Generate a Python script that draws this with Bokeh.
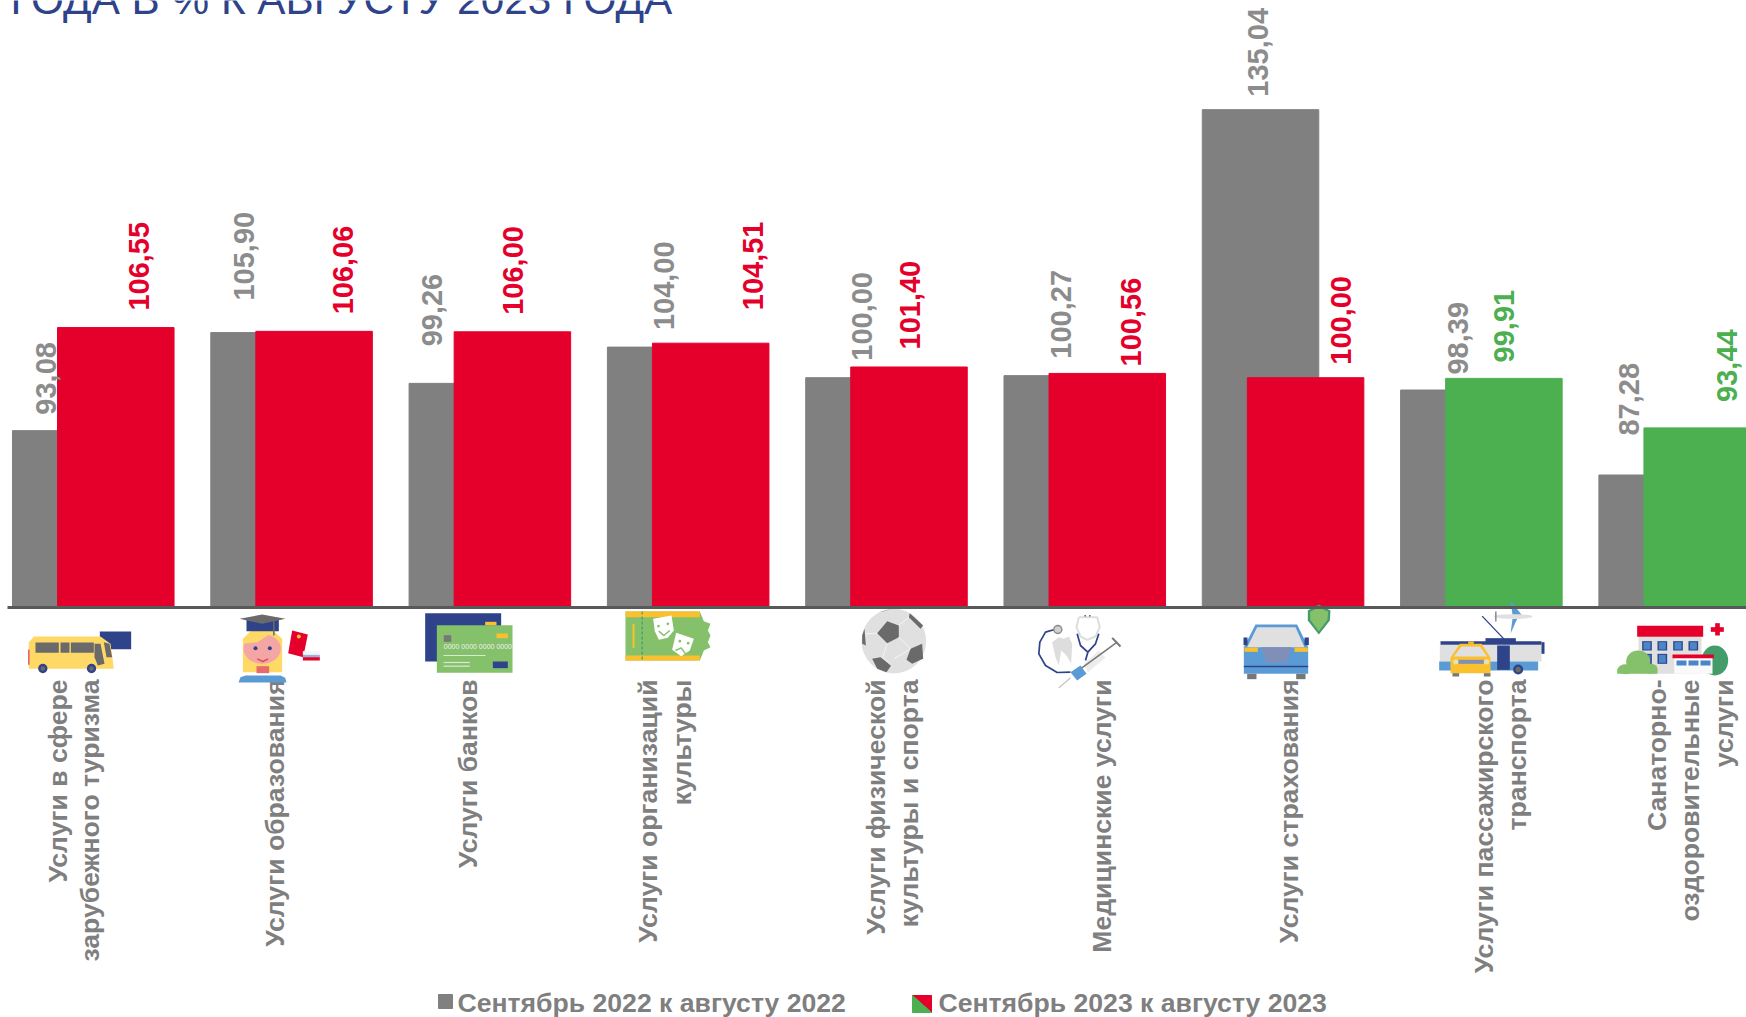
from math import pi
from bokeh.plotting import figure
from bokeh.models import Range1d, ColumnDataSource, LinearAxis
from bokeh.core.properties import value
from bokeh.embed import file_html
from bokeh.resources import INLINE

# ---------- data ----------
title_text = "ГОДА В % К АВГУСТУ 2023 ГОДА"
sep22 = [93.08, 105.90, 99.26, 104.00, 100.00, 100.27, 135.04, 98.39, 87.28]
sep23 = [106.55, 106.06, 106.00, 104.51, 101.40, 100.56, 100.00, 99.91, 93.44]
sep22_text = ["93,08", "105,90", "99,26", "104,00", "100,00", "100,27", "135,04", "98,39", "87,28"]
sep23_text = ["106,55", "106,06", "106,00", "104,51", "101,40", "100,56", "100,00", "99,91", "93,44"]
categories = [
    ["Услуги в сфере", "зарубежного туризма"],
    ["Услуги образования"],
    ["Услуги банков"],
    ["Услуги организаций", "культуры"],
    ["Услуги физической", "культуры и спорта"],
    ["Медицинские услуги"],
    ["Услуги страхования"],
    ["Услуги пассажирского", "транспорта"],
    ["Санаторно-", "оздоровительные", "услуги"],
]
legend_labels = ["Сентябрь 2022 к августу 2022", "Сентябрь 2023 к августу 2023"]

# ---------- styles / layout ----------
GRAY, RED, GREEN, NAVY = "#808080", "#e4002b", "#4caf50", "#2e4389"
LABEL_GRAY, TEXT_GRAY = "#8c8c8c", "#7f7f7f"
YEL, LGRN, DGRN, BLUE, PINK = "#ffd966", "#85c06b", "#439c6a", "#5b9bd5", "#f4a6a6"
AMB, LG, DG = "#fbc02d", "#e0e0e0", "#6a6a6a"
FONT = value("Liberation Sans")
sep23_colors = [RED] * 7 + [GREEN] * 2
PITCH = 198.3
BAR_W = 116.5 / PITCH
GRAY_C, RED_C = -0.1135, 0.1137   # bar centres relative to the group centre; the bars overlap
g_dx = [-24.25, -24.55, -34.85, -1.15, -1.45, -0.75, -2.05, -0.35, -27.65]
g_dy = [-16, -32, -37, -17, -17, -17, -13, -15.5, -39.5]
r_dx = [22.75, 28.45, 0.15, 42.45, 0.55, 23.25, 34.95, -0.35, 24.35]
r_dy = [-17, -17, -17, -33, -17.5, -7, -13, -16, -26]
cat_line_x = [[57, 89], [274], [467], [647, 681], [875, 908.5], [1101], [1288], [1483, 1516], [1656, 1689, 1723]]

W, H = 1746, 1017
p = figure(width=W, height=H, output_backend="svg", toolbar_location=None,
           x_range=Range1d((0 - 92.75) / PITCH, (W - 92.75) / PITCH),
           y_range=Range1d(70 - (H - 606.7) / 7.65, 70 + 606.7 / 7.65),
           min_border=0, outline_line_color=None, background_fill_color="white",
           border_fill_color="white")
p.grid.visible = False
p.yaxis.visible = False
p.xaxis.visible = False
p.extra_x_ranges["px"] = Range1d(0, W)
p.extra_y_ranges["px"] = Range1d(H, 0)
PX = dict(x_range_name="px", y_range_name="px")

# ---------- bars ----------
xs = list(range(len(sep22)))
src22 = ColumnDataSource(dict(x=[i + GRAY_C for i in xs], top=sep22, t=sep22_text, dx=g_dx, dy=g_dy))
src23 = ColumnDataSource(dict(x=[i + RED_C for i in xs], top=sep23, t=sep23_text, dx=r_dx, dy=r_dy, c=sep23_colors))
p.vbar(x="x", top="top", bottom=70, width=BAR_W, color=GRAY, source=src22)
p.vbar(x="x", top="top", bottom=70, width=BAR_W, color="c", source=src23)
p.text(x="x", y="top", text="t", x_offset="dx", y_offset="dy", angle=pi / 2, source=src22,
       text_align="left", text_baseline="middle", text_color=LABEL_GRAY,
       text_font=FONT, text_font_style="bold", text_font_size="29px")
p.text(x="x", y="top", text="t", x_offset="dx", y_offset="dy", angle=pi / 2, source=src23,
       text_align="left", text_baseline="middle", text_color="c",
       text_font=FONT, text_font_style="bold", text_font_size="29px")

# baseline axis
axis = LinearAxis(fixed_location=70, major_tick_line_color=None, minor_tick_line_color=None,
                  major_label_text_color=None, axis_line_color="#595959", axis_line_width=3,
                  bounds=((7 - 92.75) / PITCH, (W - 92.75) / PITCH))
p.add_layout(axis, "below")

# ---------- texts ----------
def T(x, y, s, size, color, bold=True, align="left", base="alphabetic", angle=0):
    p.text(x=[x], y=[y], text=[s], angle=angle, text_align=align, text_baseline=base,
           text_color=color, text_font=FONT, text_font_size=size,
           text_font_style="bold" if bold else "normal", **PX)

T(10, -0.6, title_text, "42.3px", NAVY, bold=False)
for lines, lx in zip(categories, cat_line_x):
    for s, x in zip(lines, lx):
        T(x, 679, s, "26.6px", TEXT_GRAY, align="right", base="middle", angle=pi / 2)

# legend
p.quad(left=[438], right=[452], top=[994], bottom=[1008], color=GRAY, **PX)
T(457, 1002, legend_labels[0], "26.6px", TEXT_GRAY)
p.patch([912, 931, 931], [995, 995, 1012], color=RED, **PX)
p.patch([912, 912, 931], [995, 1012, 1012], color=GREEN, **PX)
T(938, 1002, legend_labels[1], "26.6px", TEXT_GRAY)

# ---------- icons (decorative; page-pixel coordinates, given as 3x crop coordinates) ----------
OX = 0
def fx(v): return OX + v / 3
def fy(v): return 600 + v / 3
def R(x0, y0, x1, y1, c):
    p.quad(left=[fx(x0)], right=[fx(x1)], top=[fy(y0)], bottom=[fy(y1)], color=c, line_color=None, **PX)
def P(pts, c):
    p.patch([fx(a) for a, b in pts], [fy(b) for a, b in pts], color=c, line_color=None, **PX)
def C(x, y, rx, c, ry=None):
    p.ellipse(x=[fx(x)], y=[fy(y)], width=[2 * rx / 3], height=[2 * (ry or rx) / 3], color=c, line_color=None, **PX)
def L(pts, c, w=1.5):
    p.line([fx(a) for a, b in pts], [fy(b) for a, b in pts], line_color=c, line_width=w, **PX)

# bus + EU flag
OX = 10
R(268, 93, 362, 146, NAVY)
P([(70, 108), (270, 108), (300, 130), (310, 205), (55, 205), (55, 125)], YEL)
R(53, 147, 57, 193, "#e4485c")
for a, b in [(75, 145), (150, 177), (181, 250)]:
    R(a, 126, b, 157, DG)
P([(252, 130), (270, 130), (282, 190), (262, 195), (252, 170)], DG)
P([(280, 125), (297, 130), (305, 170), (288, 170)], DG)
for a in (97, 243):
    C(a, 204, 14, NAVY); C(a, 204, 7, DG)

# graduate
P([(697, 115), (720, 92), (790, 92), (815, 115), (815, 215), (697, 215)], YEL)
C(755, 145, 56, PINK, 45)
P([(700, 130), (722, 92), (790, 92), (812, 125), (780, 100), (740, 125)], YEL)
R(708, 55, 805, 92, NAVY)
P([(687, 55), (755, 42), (825, 55), (755, 70)], DG)
L([(790, 60), (790, 105)], DG, 1.5)
C(735, 143, 6, NAVY); C(778, 143, 6, NAVY)
L([(740, 175), (757, 183), (773, 175)], "#e4485c", 1.5)
R(738, 197, 776, 218, "#e86a6a")
P([(684, 246), (690, 230), (705, 225), (810, 225), (824, 232), (828, 246)], BLUE)
P([(845, 90), (892, 102), (878, 170), (833, 158)], RED)
C(865, 108, 6, AMB)
R(877, 152, 928, 163, "#f5f5f5"); R(877, 163, 928, 170, "#8fb4dd"); R(877, 170, 928, 180, RED)

# bank cards
OX = 410
R(44, 38, 272, 183, NAVY)
R(224, 64, 258, 75, AMB)
R(79, 74, 306, 217, LGRN)
R(258, 99, 292, 113, AMB)
R(100, 104, 122, 124, "#777777")
T(fx(100), fy(138), "0000 0000 0000 0000", "7px", "#f0f0f0", bold=False)
L([(99, 165), (225, 165)], "#d9ead3", 1.2)
L([(99, 186), (178, 186)], "#d9ead3", 1.2)
L([(99, 197), (178, 197)], "#d9ead3", 1.2)
R(247, 183, 292, 203, NAVY)

# theatre ticket
P([(645, 33), (868, 33), (880, 62), (900, 70), (892, 90), (900, 105), (892, 125), (900, 140), (880, 150), (868, 180), (645, 180)], LGRN)
R(645, 33, 868, 50, AMB); R(645, 165, 868, 180, AMB)
L([(695, 33), (695, 180)], DGRN, 1.2)
p.renderers[-1].glyph.line_dash = "3 2"
L([(669, 70), (669, 142)], AMB, 2)
P([(728, 55), (783, 45), (790, 90), (772, 112), (745, 118), (733, 92)], "white")
L([(745, 92), (760, 105), (778, 90)], LGRN, 1.5)
C(744, 77, 4, LGRN); C(772, 70, 4, LGRN)
P([(797, 97), (850, 115), (838, 150), (812, 167), (785, 148)], "white")
L([(795, 150), (812, 142), (825, 160)], LGRN, 1.5)
C(808, 122, 4, LGRN); C(833, 128, 4, LGRN)

# football
OX = 850
C(130, 122, 97, LG)
P([(110, 62), (145, 75), (145, 110), (110, 128), (80, 98)], DG)
P([(215, 130), (218, 175), (185, 190), (168, 178), (180, 145)], DG)
P([(65, 175), (90, 170), (122, 195), (108, 215), (80, 205)], DG)
P([(178, 38), (218, 75), (210, 85), (175, 50)], DG)
P([(42, 85), (46, 135), (35, 130), (35, 105)], DG)
P([(85, 35), (125, 25), (100, 32)], DG)
for seg in ([(145, 110), (180, 145)], [(110, 128), (97, 170)], [(145, 75), (175, 50)], [(80, 98), (45, 100)], [(97, 170), (122, 195)], [(180, 145), (130, 175)]):
    L(seg, "#f5f5f5", 1)

# medicine
P([(605, 125), (625, 110), (640, 115), (655, 108), (665, 130), (662, 190), (648, 165), (632, 150), (625, 195), (615, 170)], "#dddddd")
L([(612, 87), (585, 95), (568, 125), (565, 160), (585, 195), (620, 216), (660, 215)], NAVY, 1.7)
C(622, 87, 14, "#888888"); C(622, 87, 10, "#d0d0d0")
L([(685, 50), (678, 80), (690, 108), (710, 118), (735, 108), (748, 80), (740, 50), (685, 50)], "#dddddd", 2)
L([(680, 100), (690, 135), (712, 155), (735, 130), (745, 100)], NAVY, 1.7)
L([(712, 155), (705, 180)], NAVY, 1.7)
C(704, 46, 2.5, NAVY); C(718, 46, 2.5, NAVY)
L([(625, 262), (660, 232)], "#bbbbbb", 1.2)
P([(700, 190), (745, 150), (765, 172), (712, 215)], "#ececec")
L([(690, 205), (800, 125)], "#777777", 1.5)
L([(785, 112), (810, 138)], "#777777", 2)
P([(660, 215), (690, 195), (708, 220), (680, 240)], BLUE)

# car + shield
OX = 1210
P([(325, 12), (360, 30), (358, 60), (325, 102), (292, 60), (292, 30)], DGRN)
P([(325, 20), (353, 34), (351, 58), (325, 92), (299, 58), (299, 34)], LGRN)
P([(135, 72), (260, 72), (293, 140), (293, 220), (100, 220), (100, 140)], BLUE)
P([(140, 80), (255, 80), (282, 140), (110, 140)], LG)
R(99, 111, 111, 134, NAVY); R(282, 111, 295, 134, NAVY)
R(102, 141, 142, 154, AMB); R(252, 141, 292, 154, AMB)
P([(152, 140), (243, 140), (228, 187), (168, 187)], "#7f8fb8")
L([(100, 198), (293, 198)], NAVY, 1.5)
R(110, 220, 138, 236, "#777777"); R(257, 220, 285, 236, "#777777")

# trolleybus, taxi, plane
OX = 1426
L([(167, 47), (232, 115)], NAVY, 1.3)
P([(252, 0), (285, 43), (258, 43)], BLUE)
P([(272, 55), (252, 100), (258, 55)], BLUE)
C(260, 48, 58, LG, 7)
L([(208, 33), (208, 63)], "#888888", 1.5)
R(40, 133, 345, 183, LG)
R(38, 183, 335, 210, BLUE)
R(42, 122, 345, 133, NAVY)
R(177, 113, 268, 125, NAVY)
R(212, 135, 250, 208, NAVY)
R(345, 125, 354, 160, NAVY)
C(275, 207, 15, NAVY); C(275, 207, 8, DG)
P([(100, 130), (165, 130), (192, 172), (192, 218), (72, 218), (72, 172)], AMB)
P([(105, 138), (160, 138), (182, 168), (82, 168)], LG)
R(95, 178, 172, 190, "#7f8fb8")
C(88, 184, 8, "#e8e0b0"); C(180, 184, 8, "#e8e0b0")
R(125, 123, 142, 130, AMB)
R(78, 218, 98, 228, "#777777"); R(172, 218, 192, 228, "#777777")

# sanatorium
C(865, 180, 40, DGRN, 45)
R(636, 109, 825, 220, LG)
R(632, 76, 830, 109, RED)
for a in (647, 693, 740, 786):
    R(a, 122, a + 29, 150, NAVY); R(a + 4, 125, a + 25, 147, "#4a86c8")
for a in (647, 693):
    R(a, 160, a + 29, 190, NAVY); R(a + 4, 163, a + 25, 187, "#4a86c8")
R(743, 172, 858, 220, "#fafafa")
R(738, 162, 862, 173, RED)
for a in (750, 786, 822):
    R(a, 180, a + 30, 195, "#4a86c8")
R(866, 68, 880, 105, RED); R(853, 80, 892, 94, RED)
C(635, 183, 36, LGRN, 33); C(598, 206, 24, LGRN, 15); C(672, 205, 21, LGRN, 15)
R(572, 205, 693, 220, LGRN)

open("out.html", "w").write(file_html(p, INLINE))
